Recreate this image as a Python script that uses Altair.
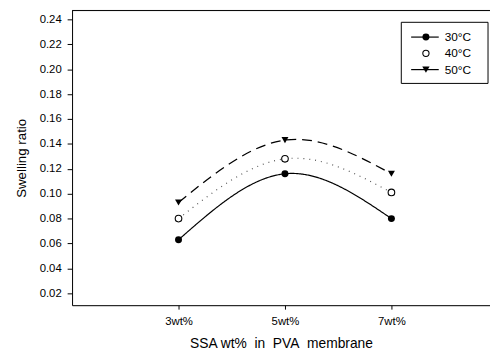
import altair as alt
import pandas as pd

# ---- data ----
ssa = [3, 5, 7]
tick_labels = {3: "3wt%", 5: "5wt%", 7: "7wt%"}
s30 = [0.063, 0.116, 0.080]
s40 = [0.080, 0.128, 0.101]
s50 = [0.093, 0.143, 0.116]
series_names = ["30°C", "40°C", "50°C"]
y_ticks = [0.02, 0.04, 0.06, 0.08, 0.10, 0.12, 0.14, 0.16, 0.18, 0.20, 0.22, 0.24]

W, H = 424, 299
FONT = "Liberation Sans"
NB = "\u00a0"

rows = []
for name, vals in zip(series_names, [s30, s40, s50]):
    for x, v in zip(ssa, vals):
        rows.append({"ssa": x, "ratio": v, "series": name})
df = pd.DataFrame(rows)

xscale = alt.Scale(domain=[1, 8.852], nice=False, zero=False)
yscale = alt.Scale(domain=[0.0105, 0.2471], nice=False, zero=False)

label_expr = "datum.value == 3 ? '3wt%' : datum.value == 5 ? '5wt%' : '7wt%'"
x_title = f"SSA wt%{NB}{NB}in{NB}{NB}PVA{NB}{NB}membrane"

xenc = alt.X("ssa:Q", scale=xscale,
             axis=alt.Axis(values=ssa, labelExpr=label_expr, title=x_title,
                           grid=False, tickSize=4, labelPadding=7, titlePadding=9,
                           labelFontSize=11.5, titleFontSize=14, titleFontWeight="normal",
                           domainColor="black", tickColor="black", labelColor="black",
                           titleColor="black", labelFont=FONT, titleFont=FONT))
yenc = alt.Y("ratio:Q", scale=yscale,
             axis=alt.Axis(values=y_ticks, format=".2f", title="Swelling ratio",
                           grid=False, tickSize=5, labelPadding=6, titlePadding=11,
                           labelFontSize=11.5, titleFontSize=13.5, titleFontWeight="normal",
                           domainColor="black", tickColor="black", labelColor="black",
                           titleColor="black", labelFont=FONT, titleFont=FONT))

styles = {
    "30°C": dict(dash=[1, 0], color="black", width=1.2),
    "40°C": dict(dash=[1, 5], color="#555555", width=1.2),
    "50°C": dict(dash=[10, 6], color="black", width=1.3),
}

layers = []
for name in series_names:
    st = styles[name]
    sub = df[df.series == name]
    layers.append(
        alt.Chart(sub).mark_line(interpolate="natural", color=st["color"],
                                 strokeDash=st["dash"], strokeWidth=st["width"])
        .encode(x=xenc, y=yenc)
    )

# markers
layers.append(alt.Chart(df[df.series == "30°C"]).mark_point(
    shape="circle", filled=True, color="black", size=50, opacity=1).encode(x=xenc, y=yenc))
layers.append(alt.Chart(df[df.series == "40°C"]).mark_point(
    shape="circle", filled=True, fill="white", stroke="black", strokeWidth=1.1, size=45,
    opacity=1).encode(x=xenc, y=yenc))
layers.append(alt.Chart(df[df.series == "50°C"]).mark_point(
    shape="triangle-down", filled=True, color="black", size=50, opacity=1).encode(x=xenc, y=yenc))

one = alt.Data(values=[{"a": 1}])

# top frame line
layers.append(alt.Chart(one).mark_rule(color="black", strokeWidth=1).encode(
    x=alt.value(0), x2=alt.value(W), y=alt.value(0)))

# legend box
LX = 407 - 73
LY = 20 - 8
layers.append(alt.Chart(one).mark_rect(fill="white", stroke="black", strokeWidth=1).encode(
    x=alt.value(LX), x2=alt.value(LX + 88), y=alt.value(LY), y2=alt.value(LY + 62)))

leg_rows = [35 - 8, 51.5 - 8, 68 - 8]
sym_x = LX + 25
for name, ry in zip(series_names, leg_rows):
    if name != "40°C":
        layers.append(alt.Chart(one).mark_rule(color="black", strokeWidth=1.2).encode(
            x=alt.value(LX + 10), x2=alt.value(LX + 38), y=alt.value(ry)))
    if name == "30°C":
        layers.append(alt.Chart(one).mark_point(shape="circle", filled=True, color="black",
                                                size=50, opacity=1).encode(
            x=alt.value(sym_x), y=alt.value(ry)))
    elif name == "40°C":
        layers.append(alt.Chart(one).mark_point(shape="circle", filled=True, fill="white",
                                                stroke="black", strokeWidth=1.1, size=40,
                                                opacity=1).encode(
            x=alt.value(sym_x), y=alt.value(ry)))
    else:
        layers.append(alt.Chart(one).mark_point(shape="triangle-down", filled=True,
                                                color="black", size=55, opacity=1).encode(
            x=alt.value(sym_x), y=alt.value(ry)))
    layers.append(alt.Chart(one).mark_text(text=name, align="left", baseline="middle",
                                           font=FONT, fontSize=12, color="black").encode(
        x=alt.value(LX + 44), y=alt.value(ry)))

chart = alt.layer(*layers).properties(
    width=W, height=H,
    autosize=alt.AutoSizeParams(type="none"),
    padding={"left": 65, "top": 0, "right": 0, "bottom": 46},
).configure_view(stroke=None).configure(background="white")

chart.save("out.html", embed_options={"renderer": "svg", "actions": False})
